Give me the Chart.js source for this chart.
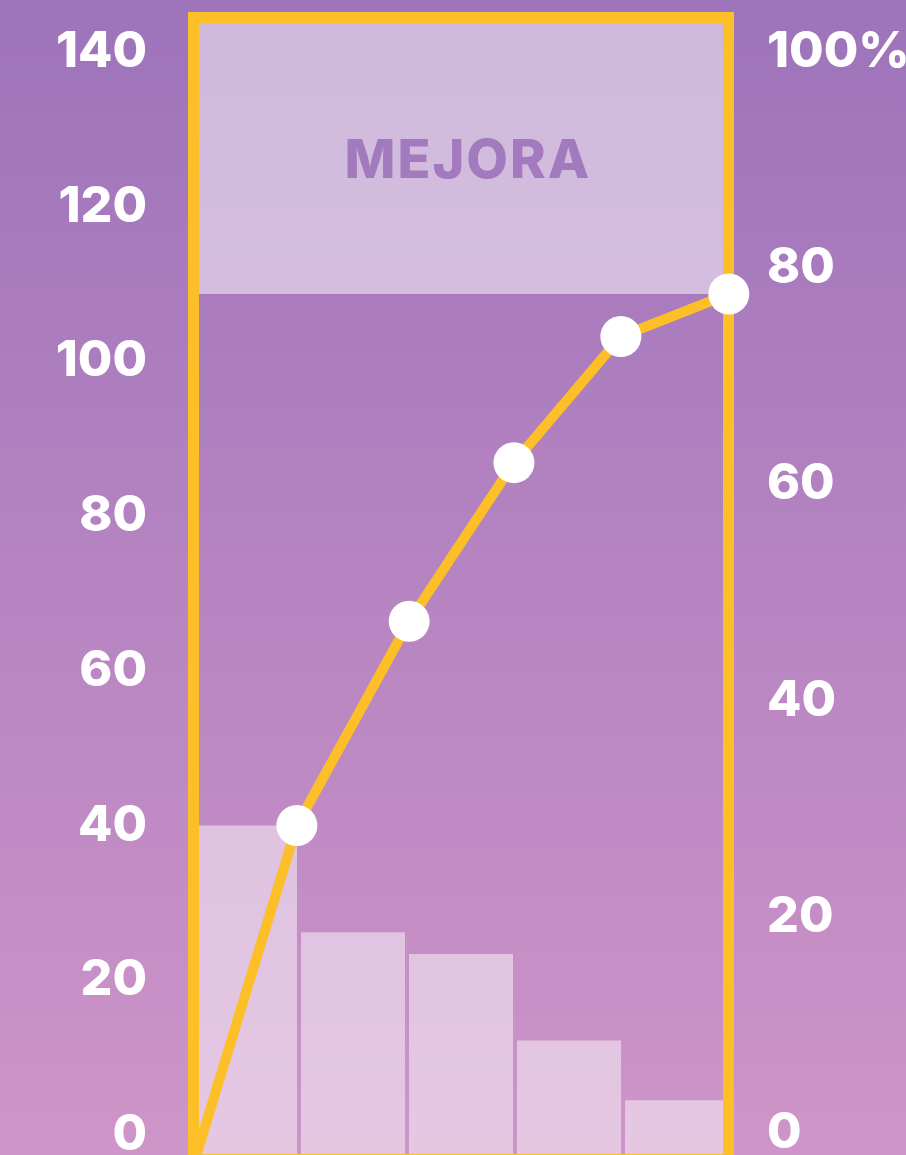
<!DOCTYPE html>
<html>
<head>
<meta charset="utf-8">
<script src="https://cdn.jsdelivr.net/npm/chart.js@4/dist/chart.umd.min.js"></script>
<style>
  html, body { margin: 0; padding: 0; background: #b07fbf; }
  #wrap { width: 906px; height: 1155px; position: relative; }
</style>
</head>
<body>
<div id="wrap"><canvas id="c" width="906" height="1155"></canvas></div>
<script>
// ---- data ----
const CATEGORIES = ['A', 'B', 'C', 'D', 'E'];
const BAR_VALUES = [40, 26.2, 23.4, 12.2, 4.5];
const LINE_X = [0.05, 0.98, 2.02, 2.99, 3.98, 4.98];
const LINE_Y = [-2.6, 40, 66.4, 86.9, 103.2, 108.7];
const LEFT_TICKS = [0, 20, 40, 60, 80, 100, 120, 140];
const RIGHT_TICKS = [0, 20, 40, 60, 80, 100];
const BAND_FROM = 108.7;
const BAND_LABEL = 'MEJORA';

const YELLOW = '#fdbf27';
const FONT = '"Inter", "Lato", sans-serif';

const bgPlugin = {
  id: 'bg',
  beforeDraw(chart) {
    const { ctx, width, height } = chart;
    const g = ctx.createLinearGradient(0, 0, 0, height);
    g.addColorStop(0, 'rgb(157,115,186)');
    g.addColorStop(1, 'rgb(206,149,200)');
    ctx.save();
    ctx.fillStyle = g;
    ctx.fillRect(0, 0, width, height);
    ctx.restore();
  },
  beforeDatasetsDraw(chart) {
    const { ctx, chartArea } = chart;
    const y = chart.scales.y;
    const yb = y.getPixelForValue(BAND_FROM);
    const top = chartArea.top + 17.5;
    ctx.save();
    ctx.fillStyle = 'rgba(255,255,255,0.5)';
    ctx.fillRect(chartArea.left + 2.5, top, chartArea.width - 5, yb - top);
    ctx.fillStyle = '#a47abe';
    ctx.font = '800 54px ' + FONT;
    ctx.textAlign = 'center';
    ctx.textBaseline = 'middle';
    try { ctx.letterSpacing = '2px'; } catch (e) {}
    ctx.fillText(BAND_LABEL, (chartArea.left + chartArea.right) / 2 + 7, (top + 5.5 + yb) / 2 + 3);
    ctx.restore();
  },
  beforeDatasetDraw(chart, args) {
    if (args.meta.type !== 'line') return;
    const { ctx, chartArea } = chart;
    ctx.save();
    ctx.strokeStyle = YELLOW;
    ctx.lineWidth = 11;
    ctx.strokeRect(chartArea.left + 2.5, chartArea.top + 17.5,
                   chartArea.width - 5, chartArea.bottom + 4.5 - (chartArea.top + 17.5));
    ctx.restore();
  }
};

function noPad(s) { s.paddingTop = 0; s.paddingBottom = 0; }

new Chart(document.getElementById('c'), {
  data: {
    labels: CATEGORIES,
    datasets: [
      {
        type: 'bar',
        data: BAR_VALUES,
        base: -2.6,
        grouped: false,
        backgroundColor: 'rgba(255,255,255,0.48)',
        borderWidth: 0,
        barPercentage: 0.963,
        categoryPercentage: 1,
        xAxisID: 'x',
        yAxisID: 'y',
        order: 2
      },
      {
        type: 'line',
        data: LINE_X.map((x, i) => ({ x: x, y: LINE_Y[i] })),
        borderColor: YELLOW,
        borderWidth: 10,
        tension: 0,
        pointRadius: LINE_X.map((x, i) => i === 0 ? 0 : 20.5),
        pointBackgroundColor: '#ffffff',
        pointBorderWidth: 0,
        pointHoverRadius: 20.5,
        clip: false,
        xAxisID: 'x2',
        yAxisID: 'y',
        order: 1
      }
    ]
  },
  options: {
    responsive: false,
    animation: false,
    events: [],
    layout: { padding: 0, autoPadding: false },
    plugins: { legend: { display: false }, tooltip: { enabled: false } },
    scales: {
      x: { type: 'category', display: false, offset: true },
      x2: { type: 'linear', display: false, min: 0, max: 5 },
      y: {
        type: 'linear', position: 'left', min: -2.59, max: 146.7,
        grid: { display: false, drawTicks: false }, border: { display: false },
        afterFit(s) { s.width = 191; noPad(s); },
        afterBuildTicks(s) { s.ticks = LEFT_TICKS.map(v => ({ value: v })); },
        ticks: {
          color: '#ffffff', padding: 44,
          font: { family: FONT, size: 50, weight: '800' },
          callback: v => String(v)
        }
      },
      y2: {
        type: 'linear', position: 'right', min: -2.035, max: 104.81,
        grid: { display: false, drawTicks: false }, border: { display: false },
        afterFit(s) { s.width = 175; noPad(s); },
        afterBuildTicks(s) { s.ticks = RIGHT_TICKS.map(v => ({ value: v })); },
        ticks: {
          color: '#ffffff', padding: 36,
          font: { family: FONT, size: 50, weight: '800' },
          callback: v => v === 100 ? '100%' : String(v)
        }
      }
    }
  },
  plugins: [bgPlugin]
});
</script>
</body>
</html>
